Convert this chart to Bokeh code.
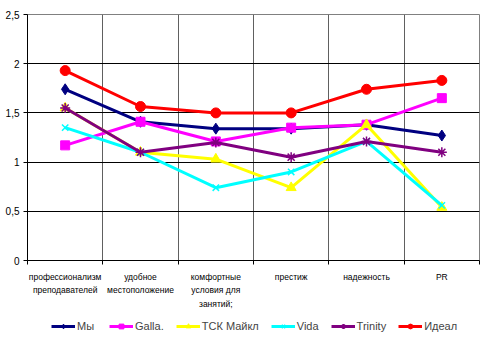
from bokeh.plotting import figure
from bokeh.models import FixedTicker, Legend, LegendItem
from bokeh.layouts import column
from bokeh.embed import file_html
from bokeh.resources import INLINE

categories = ["профессионализм\nпреподавателей", "удобное\nместоположение",
              "комфортные\nусловия для\nзанятий;", "престиж", "надежность", "PR"]
my = [1.74, 1.41, 1.34, 1.34, 1.38, 1.27]
galla = [1.17, 1.41, 1.21, 1.35, 1.38, 1.65]
tsk = [1.55, 1.10, 1.03, 0.74, 1.38, 0.54]
vida = [1.35, 1.10, 0.74, 0.90, 1.21, 0.56]
trinity = [1.55, 1.10, 1.20, 1.05, 1.21, 1.10]
ideal = [1.93, 1.565, 1.50, 1.50, 1.74, 1.83]

series = [
    ("Мы", my, "#000080", "diamond", 11),
    ("Galla.", galla, "#FF00FF", "square", 9),
    ("ТСК Майкл", tsk, "#FFFF00", "triangle", 10),
    ("Vida", vida, "#00FFFF", "x", 9),
    ("Trinity", trinity, "#800080", "asterisk", 10),
    ("Идеал", ideal, "#FF0000", "circle", 10),
]

xs = [i + 0.5 for i in range(len(categories))]
FONT = "Liberation Sans"

p = figure(width=497, height=312, output_backend="svg", toolbar_location=None,
           x_range=(0, 6), y_range=(0, 2.5),
           min_border_left=27, min_border_right=18, min_border_top=14, min_border_bottom=52)
p.background_fill_color = "white"
p.border_fill_color = "white"
p.outline_line_color = "#808080"

# y axis
p.yaxis.ticker = FixedTicker(ticks=[0, 0.5, 1, 1.5, 2, 2.5], minor_ticks=[])
p.yaxis.major_label_overrides = {0: "0", 0.5: "0,5", 1: "1", 1.5: "1,5", 2: "2", 2.5: "2,5"}
p.yaxis.major_label_text_font = FONT
p.yaxis.major_label_text_font_size = "10px"
p.yaxis.major_label_text_color = "#000000"
p.yaxis.axis_line_color = "#000000"
p.yaxis.major_tick_line_color = "#000000"
p.yaxis.major_tick_in = 0
p.yaxis.major_tick_out = 4
p.yaxis.minor_tick_line_color = None
p.yaxis.major_label_standoff = 4

# x axis
p.xaxis.ticker = FixedTicker(ticks=xs, minor_ticks=[0, 1, 2, 3, 4, 5, 6])
p.xaxis.major_label_overrides = {x: c for x, c in zip(xs, categories)}
p.xaxis.major_label_text_font = FONT
p.xaxis.major_label_text_font_size = "8.5px"
p.xaxis.major_label_text_color = "#000000"
p.xaxis.major_label_text_line_height = 1.35
p.xaxis.axis_line_color = "#000000"
p.xaxis.major_tick_line_color = None
p.xaxis.minor_tick_line_color = "#000000"
p.xaxis.minor_tick_in = 0
p.xaxis.minor_tick_out = 4
p.xaxis.major_label_standoff = 5

p.ygrid.ticker = FixedTicker(ticks=[0.5, 1, 1.5, 2, 2.5])
p.ygrid.grid_line_color = "#000000"
p.ygrid.grid_line_width = 1
p.xgrid.ticker = FixedTicker(ticks=[1, 2, 3, 4, 5, 6])
p.xgrid.grid_line_color = "#606060"
p.xgrid.grid_line_width = 1

# legend figure
q = figure(width=497, height=38, output_backend="svg", toolbar_location=None,
           x_range=(0, 1), y_range=(0, 1),
           min_border_left=0, min_border_right=0, min_border_top=0, min_border_bottom=0)
q.axis.visible = False
q.grid.visible = False
q.outline_line_color = None
q.background_fill_color = "white"
q.border_fill_color = "white"

items = []
for name, vals, color, marker, size in series:
    ln = p.line(xs, vals, line_color=color, line_width=3)
    if marker in ("x", "asterisk"):
        sc = p.scatter(xs, vals, marker=marker, size=size, line_color=color, line_width=1.5)
        lsc = q.scatter([-10, -11], [-10, -11], marker=marker, size=size - 2, line_color=color, line_width=1.5)
    else:
        sc = p.scatter(xs, vals, marker=marker, size=size, fill_color=color, line_color=color)
        lsc = q.scatter([-10, -11], [-10, -11], marker=marker, size=size - 3, fill_color=color, line_color=color)
    lln = q.line([-10, -11], [-10, -11], line_color=color, line_width=3)
    items.append(LegendItem(label=name, renderers=[lln, lsc]))

legend = Legend(items=items, orientation="horizontal", location=(24, 18),
                spacing=12, label_text_font=FONT, label_text_font_size="11px",
                label_standoff=2, glyph_width=24, glyph_height=12,
                border_line_color=None, background_fill_alpha=0,
                margin=0, padding=2, label_height=12)
q.add_layout(legend, "center")

layout = column(p, q, spacing=0)
open("out.html", "w").write(file_html(layout, INLINE))
